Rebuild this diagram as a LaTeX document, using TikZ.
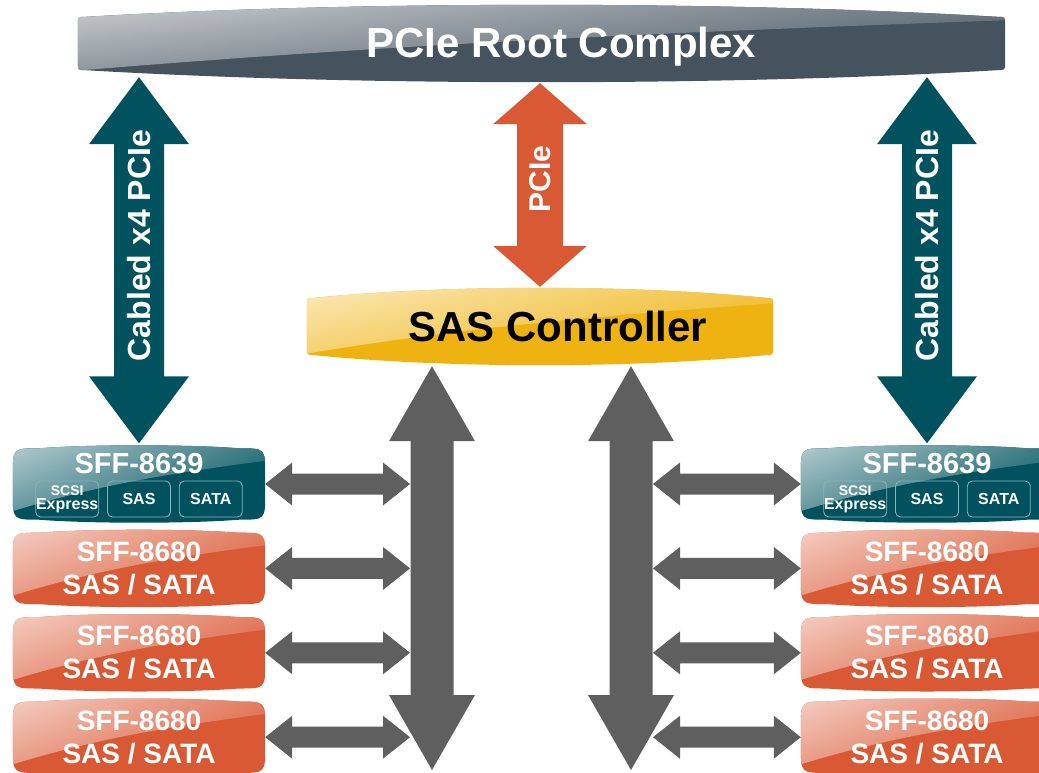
\documentclass[tikz,border=0pt]{standalone}
\usepackage{fontspec}
\setmainfont{Liberation Sans}
\usetikzlibrary{calc,positioning,shadings}

\definecolor{rootgray}{RGB}{69,83,94}
\definecolor{linkteal}{RGB}{0,83,94}
\definecolor{sfforange}{RGB}{218,89,53}
\definecolor{ctrlgold}{RGB}{239,179,17}
\definecolor{busgray}{RGB}{95,95,95}

\pgfdeclarelayer{bg}
\pgfsetlayers{bg,main}

% outline of a glossy pill round a node: node, bulge, end rounding
\newcommand{\pillpath}[3]{($(#1.north west)+(0,#2+#3)$) .. controls ($(#1.north west)+(0,#2)$) .. ($(#1.north west)+(#3,#2)$) .. controls ($(#1.north west)!0.3!(#1.north east)+(0,-#2/3)$) and ($(#1.north west)!0.7!(#1.north east)+(0,-#2/3)$) .. ($(#1.north east)+(-#3,#2)$) .. controls ($(#1.north east)+(0,#2)$) .. ($(#1.north east)+(0,#2+#3)$) -- ($(#1.south east)+(0,-#2-#3)$) .. controls ($(#1.south east)+(0,-#2)$) .. ($(#1.south east)+(-#3,-#2)$) .. controls ($(#1.south west)!0.7!(#1.south east)+(0,#2/3)$) and ($(#1.south west)!0.3!(#1.south east)+(0,#2/3)$) .. ($(#1.south west)+(#3,-#2)$) .. controls ($(#1.south west)+(0,-#2)$) .. ($(#1.south west)+(0,-#2-#3)$) -- cycle}

\newcommand{\pillfill}[4]{%
  \begin{pgfonlayer}{bg}
    \fill[#2] \pillpath{#1}{#3}{#4};
    \begin{scope}
      \clip \pillpath{#1}{#3}{#4};
      \shade[upper left=white!70!#2,upper right=white!22!#2,lower left=white!40!#2,lower right=#2]
        (#1.north west) -- ($(#1.north west)!0.85!(#1.south west)$) .. controls ($(#1.west)!0.35!(#1.east)$) and ($(#1.north east)!0.35!(#1.south west)$) .. ($(#1.north east)!0.2!(#1.south east)$) -- (#1.north east) -- cycle;
    \end{scope}
  \end{pgfonlayer}}

% fat double arrow: from, to, shaft half width, head half width, head length, colour
\newcommand{\fatarrow}[6]{%
  \fill[#6] (#1) -- ($(#1)!#5!(#2)!#4!90:(#2)$) -- ($(#1)!#5!(#2)!#3!90:(#2)$)
    -- ($(#2)!#5!(#1)!#3!-90:(#1)$) -- ($(#2)!#5!(#1)!#4!-90:(#1)$) -- (#2)
    -- ($(#2)!#5!(#1)!#4!90:(#1)$) -- ($(#2)!#5!(#1)!#3!90:(#1)$)
    -- ($(#1)!#5!(#2)!#3!-90:(#2)$) -- ($(#1)!#5!(#2)!#4!-90:(#2)$) -- cycle;}

\begin{document}
\begin{tikzpicture}[x=1pt,y=-1pt,
  bar/.style={minimum width=927pt,minimum height=77pt,inner sep=0pt,text=white,font=\bfseries\fontsize{42}{48}\selectfont},
  ctrlbox/.style={minimum width=466pt,minimum height=77pt,inner sep=0pt,text=black,font=\bfseries\fontsize{42}{48}\selectfont},
  port/.style={minimum width=252pt,minimum height=77pt,inner sep=0pt,text=white,align=center,font=\bfseries\fontsize{28}{33}\selectfont},
  porttitle/.style={inner sep=0pt,text=white,font=\bfseries\fontsize{29}{33}\selectfont},
  chip/.style={draw=white!55!linkteal,line width=0.8pt,rounded corners=5pt,minimum width=63pt,minimum height=36pt,inner sep=0pt,text=white,align=center,font=\bfseries\fontsize{16}{14}\selectfont},
  vlabel/.style={rotate=90,inner sep=0pt,text=white,font=\bfseries\fontsize{32}{36}\selectfont}]

\useasboundingbox (0,0) rectangle (1039,772);

\node[bar] (root) at (541.5,43.5) {\raisebox{-3pt}[\height][\depth]{\hspace*{40pt}PCIe Root Complex}};
\node[ctrlbox] (ctrl) at (540,326.5) {\hspace*{36pt}SAS Controller};

% left bay
\node[port] (L1) at (139,484) {};
\node[port,below=7pt of L1] (L2) {SFF-8680\\SAS / SATA};
\node[port,below=7pt of L2] (L3) {SFF-8680\\SAS / SATA};
\node[port,below=7pt of L3] (L4) {SFF-8680\\SAS / SATA};

% right bay
\node[port] (R1) at (927,484) {};
\node[port,below=7pt of R1] (R2) {SFF-8680\\SAS / SATA};
\node[port,below=7pt of R2] (R3) {SFF-8680\\SAS / SATA};
\node[port,below=7pt of R3] (R4) {SFF-8680\\SAS / SATA};

\pillfill{root}{rootgray}{12}{8}
\pillfill{ctrl}{ctrlgold}{10}{8}
\foreach \n in {L1,R1} {\pillfill{\n}{linkteal}{3}{26}}
\foreach \n in {L2,L3,L4,R2,R3,R4} {\pillfill{\n}{sfforange}{3}{26}}

% SFF-8639 protocols
\node[porttitle] (L1t) at ($(L1.north)+(0,18)$) {SFF-8639};
\node[chip] (L1sas) at ($(L1.center)+(0,15)$) {SAS};
\node[chip,left=8pt of L1sas] (L1scsi) {\fontsize{14}{14}\selectfont SCSI\\Express};
\node[chip,right=8pt of L1sas] (L1sata) {SATA};
\node[porttitle] (R1t) at ($(R1.north)+(0,18)$) {SFF-8639};
\node[chip] (R1sas) at ($(R1.center)+(0,15)$) {SAS};
\node[chip,left=8pt of R1sas] (R1scsi) {\fontsize{14}{14}\selectfont SCSI\\Express};
\node[chip,right=8pt of R1sas] (R1sata) {SATA};

% arrow ends
\coordinate (tL) at ($(L1.north |- root.south)+(0,-5)$);
\coordinate (bL) at ($(L1.north)+(0,-2)$);
\coordinate (tR) at ($(R1.north |- root.south)+(0,-5)$);
\coordinate (bR) at ($(R1.north)+(0,-2)$);
\coordinate (tC) at ($(ctrl.north |- root.south)+(0,1)$);
\coordinate (bC) at ($(ctrl.north)+(0,-1)$);
\coordinate (gL) at (432,770);
\coordinate (gR) at (631,770);
\coordinate (gLtop) at ($(ctrl.south -| gL)+(0,1)$);
\coordinate (gRtop) at ($(ctrl.south -| gR)+(0,1)$);

\fatarrow{tL}{bL}{25pt}{50pt}{67pt}{linkteal}
\fatarrow{tR}{bR}{25pt}{50pt}{67pt}{linkteal}
\fatarrow{tC}{bC}{23pt}{47pt}{41pt}{sfforange}
\fatarrow{gLtop}{gL}{21.5pt}{43pt}{75pt}{busgray}
\fatarrow{gRtop}{gR}{21.5pt}{43pt}{75pt}{busgray}
\foreach \i in {1,...,4} {
  \coordinate (hL\i) at ($(L\i.east -| gL)+(-22,0)$);
  \coordinate (hR\i) at ($(R\i.west -| gR)+(22,0)$);
  \fatarrow{L\i.east}{hL\i}{10.5pt}{21.5pt}{27pt}{busgray}
  \fatarrow{hR\i}{R\i.west}{10.5pt}{21.5pt}{27pt}{busgray}
}

\path (tL) -- node[vlabel,pos=.46] (cabL) {Cabled x4 PCIe} (bL);
\path (tR) -- node[vlabel,pos=.46] (cabR) {Cabled x4 PCIe} (bR);
\path (tC) -- node[vlabel,pos=.47,font=\bfseries\fontsize{30}{34}\selectfont] (pcie) {PCIe} (bC);
\end{tikzpicture}
\end{document}
